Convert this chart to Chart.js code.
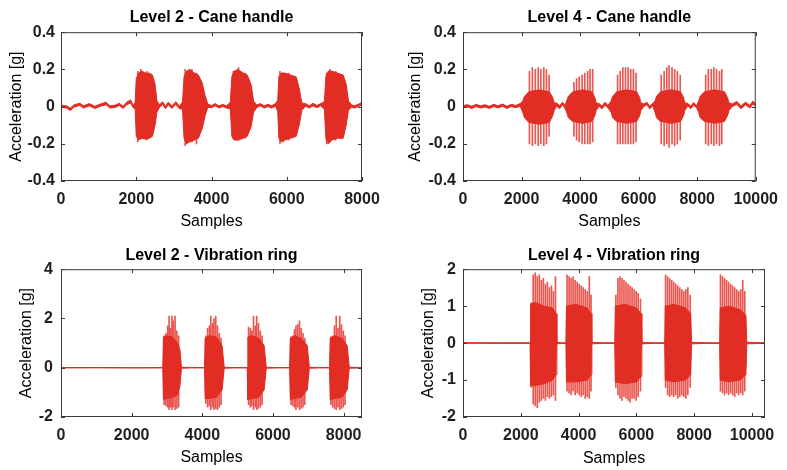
<!DOCTYPE html>
<html>
<head>
<meta charset="utf-8">
<script src="https://cdn.jsdelivr.net/npm/chart.js@4.4.1/dist/chart.umd.min.js"></script>
<style>
    body { margin: 0; background: #fff; }
    #wrap { position: relative; width: 787px; height: 470px; }
    .panel { position: absolute; }
</style>
</head>
<body>
<div id="wrap">
    <div class="panel" style="left:0;top:0"><canvas id="c1" width="393" height="235"></canvas></div>
    <div class="panel" style="left:393px;top:0"><canvas id="c2" width="394" height="235"></canvas></div>
    <div class="panel" style="left:0;top:235px"><canvas id="c3" width="393" height="235"></canvas></div>
    <div class="panel" style="left:393px;top:235px"><canvas id="c4" width="394" height="235"></canvas></div>
</div>
<script>
// Signal envelopes: [sample, upper, lower]
const caneL2Env = [
    [0, 0.008, -0.004], [150, 0.004, -0.008], [250, -0.008, -0.022], [350, 0.010, -0.002],
    [500, 0.018, 0.006], [600, 0.004, -0.008], [750, 0.016, 0.004], [900, 0.002, -0.010],
    [1050, 0.014, 0.002], [1200, 0.024, 0.010], [1300, 0.004, -0.008], [1450, 0.008, -0.004],
    [1550, 0.018, 0.006], [1650, 0.002, -0.010], [1750, 0.024, 0.010], [1850, 0.036, 0.020],
    [1920, 0.006, -0.006], [1970, 0.024, -0.012],
    [2000, 0.15, -0.16], [2060, 0.18, -0.18], [2150, 0.19, -0.17], [2250, 0.18, -0.175],
    [2350, 0.18, -0.17], [2430, 0.17, -0.16], [2500, 0.12, -0.10], [2550, 0.03, -0.03],
    [2620, 0.010, -0.004], [2700, 0.026, 0.012], [2780, 0.002, -0.012], [2850, 0.024, 0.010],
    [2950, 0.004, -0.010], [3050, 0.026, 0.012], [3150, 0.002, -0.012], [3230, 0.026, -0.014],
    [3270, 0.16, -0.17], [3330, 0.19, -0.20], [3420, 0.20, -0.19], [3550, 0.18, -0.18],
    [3650, 0.17, -0.17], [3750, 0.13, -0.12], [3830, 0.06, -0.05],
    [3900, 0.014, -0.004], [4000, 0.006, -0.006], [4100, 0.016, 0.004], [4200, 0.004, -0.008],
    [4300, 0.012, 0.000], [4400, 0.004, -0.008], [4500, 0.024, -0.012],
    [4540, 0.16, -0.16], [4600, 0.19, -0.18], [4700, 0.20, -0.18], [4850, 0.18, -0.17],
    [4950, 0.17, -0.16], [5050, 0.12, -0.11], [5120, 0.03, -0.03],
    [5200, 0.008, -0.006], [5300, 0.016, 0.004], [5400, 0.004, -0.008], [5500, 0.012, 0.000],
    [5600, 0.004, -0.008], [5700, 0.016, 0.002], [5760, 0.034, -0.024],
    [5790, 0.16, -0.17], [5850, 0.18, -0.19], [5950, 0.18, -0.18], [6100, 0.17, -0.17],
    [6250, 0.16, -0.16], [6330, 0.10, -0.10], [6400, 0.02, -0.02],
    [6500, 0.016, 0.002], [6600, 0.004, -0.008], [6700, 0.018, 0.004], [6800, 0.006, -0.006],
    [6900, 0.016, 0.004], [7000, 0.026, -0.014],
    [7040, 0.16, -0.17], [7100, 0.19, -0.20], [7200, 0.19, -0.18], [7350, 0.18, -0.17],
    [7500, 0.17, -0.17], [7580, 0.12, -0.10], [7640, 0.03, -0.02],
    [7720, 0.010, -0.004], [7800, 0.004, -0.008], [7900, 0.012, 0.000], [8000, 0.024, 0.010]
];

const caneL4Env = [
    [0, 0.006, -0.006], [150, 0.010, -0.002], [300, 0.002, -0.010], [450, 0.012, 0.000],
    [600, 0.004, -0.008], [750, 0.010, -0.002], [900, 0.002, -0.010], [1050, 0.012, 0.000],
    [1200, 0.004, -0.008], [1350, 0.014, 0.002], [1500, 0.002, -0.010], [1650, 0.012, 0.000],
    [1800, 0.006, -0.006], [1950, 0.016, 0.002],
    [2040, 0.03, -0.03], [2100, 0.055, -0.06], [2250, 0.08, -0.085], [2600, 0.09, -0.095],
    [2950, 0.08, -0.085], [3060, 0.05, -0.05], [3120, 0.02, -0.02],
    [3200, 0.020, 0.004], [3300, 0.004, -0.012], [3400, 0.024, 0.010], [3480, 0.006, -0.008],
    [3540, 0.03, -0.03], [3600, 0.055, -0.06], [3750, 0.08, -0.08], [4100, 0.09, -0.09],
    [4400, 0.08, -0.08], [4500, 0.05, -0.05], [4550, 0.02, -0.02],
    [4650, 0.016, 0.002], [4750, 0.002, -0.012], [4850, 0.024, 0.008], [4950, 0.006, -0.008],
    [5060, 0.03, -0.03], [5110, 0.055, -0.06], [5250, 0.08, -0.08], [5600, 0.09, -0.09],
    [5930, 0.08, -0.08], [6030, 0.05, -0.05], [6080, 0.02, -0.02],
    [6180, 0.014, 0.000], [6280, 0.024, 0.010], [6380, 0.002, -0.012], [6480, 0.018, 0.004],
    [6560, 0.03, -0.03], [6610, 0.055, -0.06], [6750, 0.08, -0.08], [7100, 0.09, -0.09],
    [7430, 0.08, -0.08], [7530, 0.05, -0.05], [7580, 0.02, -0.02],
    [7680, 0.018, 0.004], [7780, 0.002, -0.012], [7880, 0.022, 0.008], [7980, 0.006, -0.008],
    [8050, 0.03, -0.03], [8100, 0.055, -0.06], [8250, 0.08, -0.08], [8600, 0.09, -0.09],
    [8930, 0.08, -0.08], [9030, 0.05, -0.05], [9090, 0.02, -0.02],
    [9200, 0.014, 0.000], [9350, 0.028, 0.012], [9500, 0.004, -0.012], [9650, 0.024, 0.010],
    [9800, 0.006, -0.008], [9900, 0.030, 0.014], [10000, 0.012, 0.000]
];

const ringL2Env = [
    [0, 0.006, -0.006], [1000, 0.01, -0.004], [2000, 0.004, -0.01], [2880, 0.006, -0.006],
    [2900, 1.25, -1.30], [3000, 1.30, -1.25], [3150, 1.25, -1.20], [3300, 1.00, -1.10],
    [3370, 0.70, -0.70], [3410, 0.02, -0.02],
    [3700, 0.006, -0.006], [4060, 0.006, -0.006],
    [4080, 1.20, -1.25], [4200, 1.30, -1.25], [4400, 1.25, -1.20], [4560, 0.90, -0.90], [4620, 0.02, -0.02],
    [4900, 0.006, -0.006], [5270, 0.006, -0.006],
    [5290, 1.25, -1.30], [5400, 1.30, -1.25], [5600, 1.20, -1.20], [5750, 0.90, -0.90], [5810, 0.02, -0.02],
    [6100, 0.006, -0.006], [6470, 0.006, -0.006],
    [6490, 1.20, -1.30], [6600, 1.30, -1.25], [6800, 1.20, -1.20], [6970, 0.90, -0.90], [7030, 0.02, -0.02],
    [7300, 0.006, -0.006], [7600, 0.006, -0.006],
    [7620, 1.20, -1.30], [7750, 1.30, -1.25], [7950, 1.20, -1.20], [8100, 0.90, -0.90], [8160, 0.02, -0.02],
    [8520, 0.006, -0.006]
];

const ringL4Env = [
    [0, 0.012, -0.004], [1200, 0.008, -0.008], [2320, 0.008, -0.008],
    [2340, 1.05, -1.15], [2500, 1.10, -1.15], [2800, 1.00, -1.10], [3100, 0.95, -1.00],
    [3220, 0.80, -0.85], [3250, 0.02, -0.02],
    [3400, 0.008, -0.008], [3560, 0.008, -0.008],
    [3580, 1.00, -1.05], [3900, 1.05, -1.05], [4300, 0.95, -1.00], [4430, 0.80, -0.85], [4460, 0.02, -0.02],
    [4850, 0.008, -0.008], [5250, 0.008, -0.008],
    [5270, 1.00, -1.05], [5600, 1.05, -1.10], [6000, 0.95, -1.05], [6160, 0.80, -0.90], [6190, 0.02, -0.02],
    [6600, 0.008, -0.008], [6980, 0.008, -0.008],
    [7000, 1.00, -1.00], [7300, 1.05, -1.05], [7700, 0.95, -1.00], [7880, 0.80, -0.85], [7910, 0.02, -0.02],
    [8400, 0.008, -0.008], [8880, 0.008, -0.008],
    [8900, 0.95, -1.00], [9200, 1.00, -1.05], [9600, 0.90, -1.00], [9790, 0.75, -0.85], [9820, 0.02, -0.02],
    [10450, 0.008, -0.008]
];

// Single tall oscillations: [sample, top, bottom]
const caneL2Spikes = [
    [2040, 0.19, -0.19], [2120, 0.20, -0.16], [2280, 0.19, -0.18],
    [3300, 0.20, -0.21], [3480, 0.20, -0.19], [3600, 0.18, -0.20],
    [4580, 0.19, -0.17], [4720, 0.21, -0.18], [4900, 0.18, -0.17],
    [5820, 0.19, -0.20], [5900, 0.18, -0.19], [6050, 0.18, -0.18],
    [7060, 0.18, -0.20], [7150, 0.20, -0.19], [7300, 0.19, -0.18]
];

const caneL4Spikes = [
    [2270, 0.19, -0.20], [2370, 0.21, -0.21], [2470, 0.20, -0.20], [2570, 0.21, -0.21],
    [2660, 0.20, -0.20], [2760, 0.21, -0.21], [2850, 0.20, -0.20], [2940, 0.17, -0.16],
    [3790, 0.13, -0.16], [3880, 0.15, -0.18], [3970, 0.16, -0.19], [4070, 0.17, -0.20],
    [4160, 0.18, -0.20], [4260, 0.19, -0.20], [4340, 0.20, -0.20], [4430, 0.20, -0.19],
    [5280, 0.17, -0.20], [5370, 0.19, -0.20], [5460, 0.21, -0.20], [5550, 0.21, -0.20],
    [5640, 0.21, -0.20], [5730, 0.20, -0.20], [5820, 0.20, -0.20], [5910, 0.18, -0.19],
    [6770, 0.17, -0.20], [6870, 0.19, -0.21], [6960, 0.21, -0.20], [7040, 0.22, -0.22],
    [7140, 0.21, -0.20], [7230, 0.20, -0.21], [7320, 0.19, -0.20], [7420, 0.17, -0.18],
    [8290, 0.17, -0.20], [8380, 0.20, -0.21], [8480, 0.20, -0.20], [8570, 0.21, -0.21],
    [8660, 0.20, -0.20], [8760, 0.19, -0.21], [8840, 0.20, -0.20]
];

const ringL2Spikes = [
    [2920, 1.30, -1.50], [2970, 1.40, -1.55], [3020, 1.70, -1.60], [3060, 2.10, -1.70],
    [3100, 1.60, -1.60], [3140, 2.10, -1.70], [3180, 1.90, -1.60], [3230, 2.10, -1.70],
    [3280, 1.50, -1.65], [3330, 1.30, -1.60],
    [4100, 1.30, -1.45], [4150, 1.60, -1.60], [4200, 1.70, -1.55], [4240, 2.10, -1.70],
    [4290, 1.80, -1.60], [4330, 2.00, -1.70], [4380, 2.10, -1.65], [4430, 1.70, -1.70],
    [4480, 1.40, -1.60], [4530, 1.20, -1.50],
    [5310, 1.65, -1.50], [5360, 1.60, -1.60], [5400, 1.50, -1.55], [5450, 2.10, -1.70],
    [5500, 1.70, -1.60], [5540, 2.10, -1.70], [5590, 1.80, -1.65], [5640, 1.50, -1.60],
    [5690, 1.30, -1.50],
    [6510, 1.25, -1.50], [6560, 1.30, -1.55], [6610, 1.55, -1.60], [6650, 1.70, -1.70],
    [6700, 1.75, -1.60], [6750, 1.90, -1.70], [6800, 1.60, -1.65], [6850, 1.40, -1.60],
    [6900, 1.20, -1.50],
    [7640, 1.25, -1.50], [7690, 1.30, -1.60], [7740, 1.70, -1.65], [7790, 2.10, -1.70],
    [7840, 1.60, -1.60], [7890, 2.10, -1.70], [7940, 1.75, -1.65], [7990, 1.50, -1.60],
    [8040, 1.30, -1.50]
];

const ringL4Spikes = [
    [2360, 1.10, -1.20], [2430, 1.85, -1.65], [2500, 1.90, -1.70], [2570, 1.80, -1.75],
    [2640, 1.85, -1.60], [2710, 1.70, -1.55], [2780, 1.75, -1.50], [2850, 1.60, -1.55],
    [2920, 1.65, -1.45], [2990, 1.50, -1.50], [3060, 1.55, -1.45], [3130, 1.40, -1.40],
    [3200, 1.80, -1.55],
    [3600, 1.85, -1.30], [3670, 1.80, -1.35], [3740, 1.75, -1.40], [3810, 1.80, -1.30],
    [3880, 1.70, -1.40], [3950, 1.65, -1.35], [4020, 1.60, -1.40], [4090, 1.55, -1.45],
    [4160, 1.50, -1.40], [4230, 1.45, -1.50], [4300, 1.40, -1.45], [4370, 1.80, -1.50],
    [4430, 1.30, -1.30],
    [5290, 1.30, -1.20], [5360, 1.75, -1.40], [5430, 1.80, -1.50], [5500, 1.75, -1.55],
    [5570, 1.70, -1.45], [5640, 1.65, -1.50], [5710, 1.60, -1.55], [5780, 1.55, -1.60],
    [5850, 1.50, -1.50], [5920, 1.45, -1.50], [5990, 1.40, -1.55], [6060, 1.35, -1.45],
    [6140, 1.20, -1.30],
    [7010, 1.85, -1.20], [7080, 1.80, -1.40], [7150, 1.75, -1.45], [7220, 1.70, -1.40],
    [7290, 1.65, -1.45], [7360, 1.60, -1.40], [7430, 1.55, -1.50], [7500, 1.50, -1.45],
    [7570, 1.45, -1.40], [7640, 1.40, -1.45], [7710, 1.45, -1.50], [7780, 1.50, -1.40],
    [7860, 1.30, -1.20],
    [8910, 1.85, -1.30], [8980, 1.80, -1.35], [9050, 1.75, -1.40], [9120, 1.70, -1.35],
    [9190, 1.65, -1.40], [9260, 1.60, -1.35], [9330, 1.55, -1.40], [9400, 1.50, -1.45],
    [9470, 1.45, -1.35], [9540, 1.40, -1.40], [9610, 1.45, -1.35], [9680, 1.70, -1.40],
    [9750, 1.40, -1.30]
];

// Axis ranges [min, max] and tick values
const caneL2XRange = [0, 8000];
const caneL4XRange = [0, 10000];
const ringL2XRange = [0, 8520];
const ringL4XRange = [0, 10450];
const xTicks8k = [0, 2000, 4000, 6000, 8000];
const xTicks10k = [0, 2000, 4000, 6000, 8000, 10000];
const caneYRange = [-0.4, 0.4];
const caneYTicks = [-0.4, -0.2, 0, 0.2, 0.4];
const ringL2YRange = [-2, 4];
const ringL2YTicks = [-2, 0, 2, 4];
const ringL4YRange = [-2, 2];
const ringL4YTicks = [-2, -1, 0, 1, 2];

const RED = '#e12d24';
const SPIKE_RED = 'rgba(228, 45, 36, 0.8)';
const INK = '#1f1f1f';
const AXIS = '#3a3a3a';

Chart.defaults.font.family = 'Arial, "Liberation Sans", Helvetica, sans-serif';
Chart.defaults.color = INK;

// Box around the plot with inward tick marks (MATLAB style)
const boxPlugin = {
    id: 'box',
    afterDraw(chart) {
        const { ctx, chartArea: a, scales } = chart;
        const len = 4;
        ctx.save();
        ctx.strokeStyle = AXIS;
        ctx.lineWidth = 1;
        ctx.strokeRect(a.left + 0.5, a.top + 0.5, a.right - a.left - 1, a.bottom - a.top - 1);
        ctx.beginPath();
        scales.x.ticks.forEach(t => {
            const px = Math.round(scales.x.getPixelForValue(t.value)) + 0.5;
            ctx.moveTo(px, a.bottom); ctx.lineTo(px, a.bottom - len);
            ctx.moveTo(px, a.top); ctx.lineTo(px, a.top + len);
        });
        scales.y.ticks.forEach(t => {
            const py = Math.round(scales.y.getPixelForValue(t.value)) + 0.5;
            ctx.moveTo(a.left, py); ctx.lineTo(a.left + len, py);
            ctx.moveTo(a.right, py); ctx.lineTo(a.right - len, py);
        });
        ctx.stroke();
        ctx.restore();
    }
};

// Create one panel
function makePanel(id, title, env, spikes, xRange, xTicks, yRange, yTicks, lay) {
    const datasets = [
        {
            label: 'upper',
            data: env.map(r => ({ x: r[0], y: r[1] })),
            borderColor: RED,
            backgroundColor: RED,
            borderWidth: 1,
            pointRadius: 0,
            tension: 0,
            fill: '+1'
        },
        {
            label: 'lower',
            data: env.map(r => ({ x: r[0], y: r[2] })),
            borderColor: RED,
            borderWidth: 1,
            pointRadius: 0,
            tension: 0,
            fill: false
        },
        {
            type: 'bar',
            label: 'spikes',
            data: spikes.map(r => ({ x: r[0], y: [r[2], r[1]] })),
            backgroundColor: SPIKE_RED,
            borderWidth: 0,
            barThickness: 1,
            grouped: false
        }
    ];

    new Chart(document.getElementById(id), {
        type: 'line',
        data: { datasets },
        options: {
            responsive: false,
            animation: false,
            events: [],
            layout: { padding: { left: 0, right: lay.padRight, top: 0, bottom: 0 } },
            plugins: {
                legend: { display: false },
                tooltip: { enabled: false },
                title: {
                    display: true,
                    text: title,
                    fullSize: false,
                    color: '#000',
                    font: { size: 16, weight: 'bold' },
                    padding: { top: lay.titleTop, bottom: lay.titleBottom }
                }
            },
            scales: {
                x: {
                    type: 'linear',
                    min: xRange[0],
                    max: xRange[1],
                    offset: false,
                    grid: { display: false, drawTicks: false },
                    border: { display: false },
                    afterBuildTicks: s => { s.ticks = xTicks.map(v => ({ value: v })); },
                    ticks: {
                        autoSkip: false,
                        maxRotation: 0,
                        padding: 9,
                        color: INK,
                        font: { size: 16, weight: 'bold' },
                        callback: v => String(v)
                    },
                    title: {
                        display: true,
                        text: 'Samples',
                        color: '#000',
                        font: { size: 16 },
                        padding: { top: 0, bottom: lay.xTitleBottom }
                    },
                    afterFit: s => { s.height = lay.xAxisH; }
                },
                y: {
                    min: yRange[0],
                    max: yRange[1],
                    grid: { display: false, drawTicks: false },
                    border: { display: false },
                    afterBuildTicks: s => { s.ticks = yTicks.map(v => ({ value: v })); },
                    ticks: {
                        padding: lay.yTickPad,
                        color: INK,
                        font: { size: 16, weight: 'bold' },
                        callback: v => String(v)
                    },
                    title: {
                        display: true,
                        text: 'Acceleration [g]',
                        color: '#000',
                        font: { size: 16 },
                        padding: { top: lay.yTitlePad, bottom: 0 }
                    },
                    afterFit: s => { s.width = lay.yAxisW; }
                }
            }
        },
        plugins: [boxPlugin]
    });
}

makePanel('c1', 'Level 2 - Cane handle', caneL2Env, caneL2Spikes,
    caneL2XRange, xTicks8k, caneYRange, caneYTicks,
    { padRight: 31, yAxisW: 61, xAxisH: 54, titleTop: 8, titleBottom: 5, xTitleBottom: 4, yTitlePad: 7, yTickPad: 6 });
makePanel('c2', 'Level 4 - Cane handle', caneL4Env, caneL4Spikes,
    caneL4XRange, xTicks10k, caneYRange, caneYTicks,
    { padRight: 22, yAxisW: 70, xAxisH: 54, titleTop: 8, titleBottom: 5, xTitleBottom: 4, yTitlePad: 13, yTickPad: 7 });
makePanel('c3', 'Level 2 - Vibration ring', ringL2Env, ringL2Spikes,
    ringL2XRange, xTicks8k, ringL2YRange, ringL2YTicks,
    { padRight: 31, yAxisW: 61, xAxisH: 53, titleTop: 11, titleBottom: 4, xTitleBottom: 3, yTitlePad: 17, yTickPad: 8 });
makePanel('c4', 'Level 4 - Vibration ring', ringL4Env, ringL4Spikes,
    ringL4XRange, xTicks10k, ringL4YRange, ringL4YTicks,
    { padRight: 22, yAxisW: 70, xAxisH: 53, titleTop: 11, titleBottom: 4, xTitleBottom: 2, yTitlePad: 26, yTickPad: 7 });
</script>
</body>
</html>
